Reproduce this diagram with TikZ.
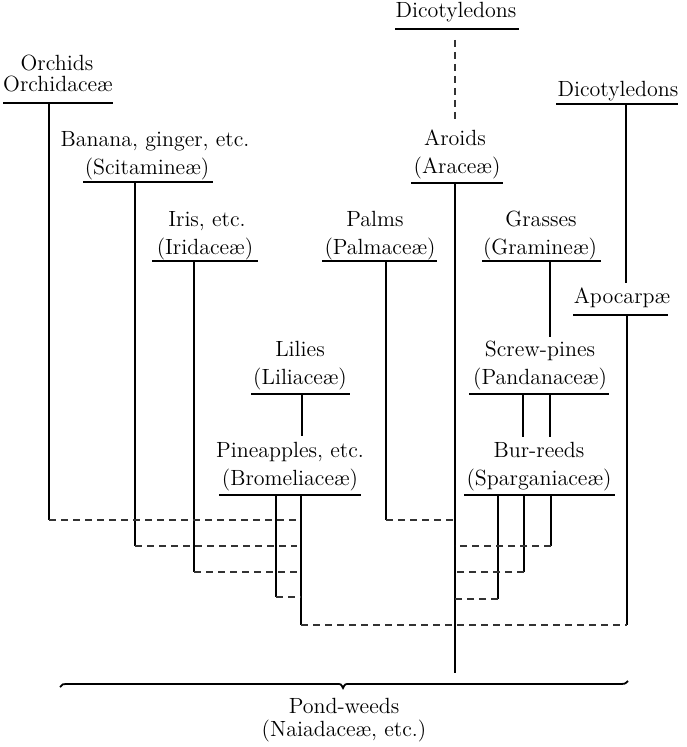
\documentclass[tikz,border=0pt]{standalone}
\usepackage{fontspec}
\begin{document}
\begin{tikzpicture}[x=0.5pt,y=-0.5pt,
  lbl/.style={anchor=base, inner sep=0pt, font=\fontsize{11}{13}\selectfont},
  uline/.style={line width=0.9pt},
  stem/.style={line width=0.6pt},
  brokenline/.style={line width=0.6pt, dash pattern=on 3.5pt off 2.5pt, black!80}]
\useasboundingbox (0,0) rectangle (686,747);
% ---- labels
\node[lbl] (orch1) at (57,71) {Orchids};
\node[lbl] (orch2) at (58,92) {Orchidaceæ};
\node[lbl] (ban1) at (155,147) {Banana, ginger, etc.};
\node[lbl] (ban2) at (147,175) {(Scitamineæ)};
\node[lbl] (iris1) at (207,227) {Iris, etc.};
\node[lbl] (iris2) at (205,255) {(Iridaceæ)};
\node[lbl] (palm1) at (375,227) {Palms};
\node[lbl] (palm2) at (380,255) {(Palmaceæ)};
\node[lbl] (gras1) at (541,227) {Grasses};
\node[lbl] (gras2) at (540,255) {(Gramineæ)};
\node[lbl] (dicA) at (456,18) {Dicotyledons};
\node[lbl] (aro1) at (455,146) {Aroids};
\node[lbl] (aro2) at (457,174) {(Araceæ)};
\node[lbl] (dicB) at (618,97) {Dicotyledons};
\node[lbl] (apo) at (622,304) {Apocarpæ};
\node[lbl] (lil1) at (300,357) {Lilies};
\node[lbl] (lil2) at (300,385) {(Liliaceæ)};
\node[lbl] (scr1) at (540,357) {Screw-pines};
\node[lbl] (scr2) at (540,385) {(Pandanaceæ)};
\node[lbl] (pin1) at (290,457) {Pineapples, etc.};
\node[lbl] (pin2) at (290,485) {(Bromeliaceæ)};
\node[lbl] (bur1) at (539,457) {Bur-reeds};
\node[lbl] (bur2) at (539,485) {(Sparganiaceæ)};
\node[lbl] (pond1) at (344,713) {Pond-weeds};
\node[lbl] (pond2) at (344,736) {(Naiadaceæ, etc.)};
% ---- underlines
\coordinate (orchL) at (3,103);   \coordinate (orchR) at (113,103);
\coordinate (banL) at (83,182);   \coordinate (banR) at (213,182);
\coordinate (irisL) at (152,261); \coordinate (irisR) at (258,261);
\coordinate (palmL) at (322,261); \coordinate (palmR) at (437,261);
\coordinate (grasL) at (482,261); \coordinate (grasR) at (601,261);
\coordinate (dicAL) at (395,29);  \coordinate (dicAR) at (519,29);
\coordinate (aroL) at (411,183);  \coordinate (aroR) at (503,183);
\coordinate (dicBL) at (556,104); \coordinate (dicBR) at (678,104);
\coordinate (apoL) at (573,315);  \coordinate (apoR) at (668,315);
\coordinate (lilL) at (251,394);  \coordinate (lilR) at (350,394);
\coordinate (scrL) at (469,394);  \coordinate (scrR) at (609,394);
\coordinate (pinL) at (219,495);  \coordinate (pinR) at (361,495);
\coordinate (burL) at (464,495);  \coordinate (burR) at (615,495);
\foreach \a/\b in {orchL/orchR,banL/banR,irisL/irisR,palmL/palmR,grasL/grasR,
  dicAL/dicAR,aroL/aroR,dicBL/dicBR,apoL/apoR,lilL/lilR,scrL/scrR,pinL/pinR,burL/burR}
  \draw[uline] (\a) -- (\b);
% ---- stems
\coordinate (orchS) at (49,103);  \coordinate (orchE) at (49,520);
\coordinate (banS) at (135,182);  \coordinate (banE) at (135,546);
\coordinate (irisS) at (194,261); \coordinate (irisE) at (194,572);
\coordinate (palmS) at (386,261); \coordinate (palmE) at (386,520);
\coordinate (grasS) at (550,261); \coordinate (grasE) at (550,337);
\coordinate (dicAS) at (455,40);  \coordinate (dicAE) at (455,123);
\coordinate (aroS) at (455,183);  \coordinate (aroE) at (455,673);
\coordinate (dicBS) at (626,104); \coordinate (dicBE) at (626,283);
\coordinate (apoS) at (627,315);  \coordinate (apoE) at (627,625);
\coordinate (lilS) at (302,394);  \coordinate (lilE) at (302,436);
\coordinate (scrSa) at (523,394); \coordinate (scrEa) at (523,437);
\coordinate (scrSb) at (550,394); \coordinate (scrEb) at (550,437);
\coordinate (pinSa) at (276,495); \coordinate (pinEa) at (276,597);
\coordinate (pinSb) at (301,495); \coordinate (pinEb) at (301,625);
\coordinate (burSa) at (498,495); \coordinate (burEa) at (498,599);
\coordinate (burSb) at (524,495); \coordinate (burEb) at (524,572);
\coordinate (burSc) at (551,495); \coordinate (burEc) at (551,546);
\foreach \a/\b in {orchS/orchE,banS/banE,irisS/irisE,palmS/palmE,grasS/grasE,
  aroS/aroE,dicBS/dicBE,apoS/apoE,lilS/lilE,scrSa/scrEa,scrSb/scrEb,
  pinSa/pinEa,pinSb/pinEb,burSa/burEa,burSb/burEb,burSc/burEc}
  \draw[stem] (\a) -- (\b);
\draw[brokenline] (dicAS) -- (dicAE);
% ---- dashed joins
\coordinate (j1) at (297,520);
\coordinate (j2) at (297,546);
\coordinate (j3) at (297,572);
\coordinate (a1) at (455,520);
\coordinate (a2) at (455,546);
\coordinate (a3) at (455,572);
\coordinate (a4) at (455,599);
\draw[brokenline] (orchE) -- (j1);
\draw[brokenline] (banE) -- (j2);
\draw[brokenline] (irisE) -- (j3);
\draw[brokenline] (pinEa) -- (pinEa -| pinSb);
\draw[brokenline] (pinEb) -- (apoE);
\draw[brokenline] (palmE) -- (a1);
\draw[brokenline] (burEc) -- (a2);
\draw[brokenline] (burEb) -- (a3);
\draw[brokenline] (burEa) -- (a4);
% ---- brace
\coordinate (brL) at (60,687);
\coordinate (brM) at (343,688);
\coordinate (brR) at (628,681);
\draw[line width=0.9pt] (brL) .. controls (62,684) .. (70,684) -- (337,684)
  .. controls (341,684) .. (brM) .. controls (345,684) .. (349,684) -- (618,684)
  .. controls (625,684) .. (brR);
\end{tikzpicture}
\end{document}
